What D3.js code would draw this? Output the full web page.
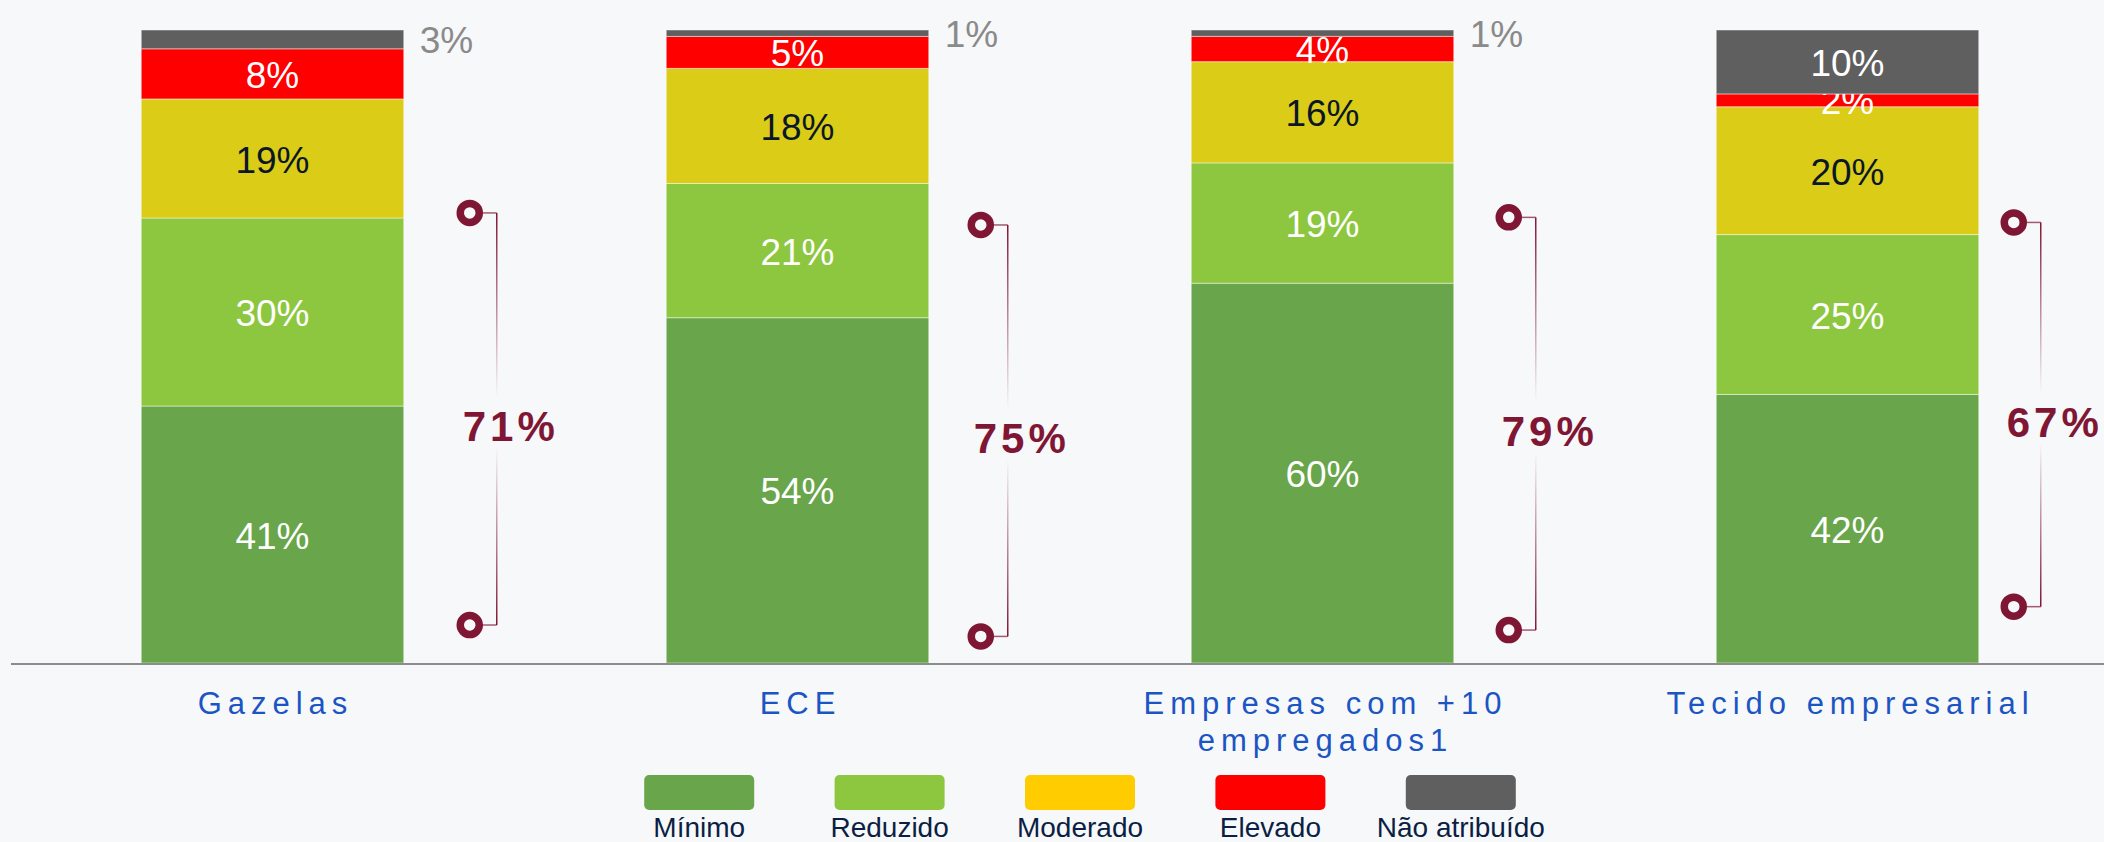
<!DOCTYPE html>
<html>
<head>
<meta charset="utf-8">
<script src="https://cdn.jsdelivr.net/npm/d3@7"></script>
<style>
	body { margin: 0; background: #f7f8fa; }
	svg { display: block; font-family: "Liberation Sans", Arial, sans-serif; }
</style>
</head>
<body>
<div id="chart"></div>
<script>
// Data
const categories = ["Gazelas", "ECE", "Empresas com +10\nempregados1", "Tecido empresarial"];
const series = ["Mínimo", "Reduzido", "Moderado", "Elevado", "Não atribuído"];
const minimo = [41, 54, 60, 42];
const reduzido = [30, 21, 19, 25];
const moderado = [19, 18, 16, 20];
const elevado = [8, 5, 4, 2];
const naoAtribuido = [3, 1, 1, 10];

const bracketTop = [0.711, 0.692, 0.704, 0.696];
const bracketBottom = [0.060, 0.042, 0.052, 0.089];

(function() {
	const width = 2104, height = 842;
	const margin = {top: 30, right: -6, bottom: 179, left: 10};

	const barColors = ["#69a54a", "#8dc73f", "#dacc17", "#ff0000", "#5f5f5f"];
	const legendColors = ["#69a54a", "#8dc73f", "#ffcc00", "#ff0000", "#5f5f5f"];
	const labelColors = ["#ffffff", "#ffffff", "#0b1728", "#ffffff", "#ffffff"];
	const maroon = "#7f1734";
	const bracketGap = [66, 52, 55, 35];

	const cols = [minimo, reduzido, moderado, elevado, naoAtribuido];
	const data = categories.map((c, i) => {
		const row = {category: c};
		series.forEach((s, j) => row[s] = cols[j][i]);
		return row;
	});

	const stacked = d3.stack()
		.keys(series)
		.offset(d3.stackOffsetExpand)(data);

	const x = d3.scaleBand()
		.domain(categories)
		.range([margin.left, width - margin.right])
		.paddingInner(0.5)
		.paddingOuter(0.25);

	const y = d3.scaleLinear()
		.domain([0, 1])
		.range([height - margin.bottom, margin.top]);

	const svg = d3.select("#chart").append("svg")
		.attr("width", width)
		.attr("height", height);

	svg.append("rect")
		.attr("width", width)
		.attr("height", height)
		.attr("fill", "#f7f8fa");

	// Bars
	const layers = svg.append("g")
		.selectAll("g")
		.data(stacked)
		.join("g")
			.attr("fill", (d, i) => barColors[i]);

	layers.selectAll("rect")
		.data(d => d)
		.join("rect")
			.attr("x", d => x(d.data.category))
			.attr("y", d => y(d[1]))
			.attr("width", x.bandwidth())
			.attr("height", d => y(d[0]) - y(d[1]))
			.attr("stroke", "rgba(255,255,255,0.45)")
			.attr("stroke-width", 1);

	// Segment labels (small "não atribuído" shares go outside the bar)
	const isOutside = (li, d, key) => li === 4 && d.data[key] < 5;

	layers.each(function(layer, li) {
		d3.select(this).selectAll("text")
			.data(layer)
			.join("text")
				.attr("x", d => isOutside(li, d, layer.key)
					? x(d.data.category) + x.bandwidth() + 16
					: x(d.data.category) + x.bandwidth() / 2)
				.attr("y", d => (y(d[0]) + y(d[1])) / 2)
				.attr("dy", "0.38em")
				.attr("text-anchor", d => isOutside(li, d, layer.key) ? "start" : "middle")
				.attr("fill", d => isOutside(li, d, layer.key) ? "#8a8a8a" : labelColors[li])
				.style("font-size", "37px")
				.text(d => d.data[layer.key] + "%");
	});

	// Baseline
	svg.append("line")
		.attr("x1", 11)
		.attr("x2", width)
		.attr("y1", y(0) + 1)
		.attr("y2", y(0) + 1)
		.attr("stroke", "#8c8c8c")
		.attr("stroke-width", 2);

	// Category labels
	svg.append("g")
		.selectAll("text")
		.data(categories)
		.join("text")
			.attr("x", d => x(d) + x.bandwidth() / 2 + 3)
			.attr("y", y(0) + 51)
			.attr("text-anchor", "middle")
			.attr("fill", "#1b55c4")
			.style("font-size", "31px")
			.style("letter-spacing", "6px")
			.each(function(d) {
				d.split("\n").forEach((line, i) => {
					d3.select(this).append("tspan")
						.attr("x", x(d) + x.bandwidth() / 2 + 3)
						.attr("dy", i === 0 ? 0 : 37)
						.text(line);
				});
			});

	// Brackets (Mínimo + Reduzido)
	const defs = svg.append("defs");
	const gradUp = defs.append("linearGradient")
		.attr("id", "fadeDown")
		.attr("x1", 0).attr("y1", 0).attr("x2", 0).attr("y2", 1);
	gradUp.append("stop").attr("offset", "0%").attr("stop-color", maroon).attr("stop-opacity", 1);
	gradUp.append("stop").attr("offset", "100%").attr("stop-color", maroon).attr("stop-opacity", 0);
	const gradDown = defs.append("linearGradient")
		.attr("id", "fadeUp")
		.attr("x1", 0).attr("y1", 0).attr("x2", 0).attr("y2", 1);
	gradDown.append("stop").attr("offset", "0%").attr("stop-color", maroon).attr("stop-opacity", 0);
	gradDown.append("stop").attr("offset", "100%").attr("stop-color", maroon).attr("stop-opacity", 1);

	const brackets = svg.append("g")
		.selectAll("g")
		.data(categories)
		.join("g");

	brackets.each(function(c, i) {
		const g = d3.select(this);
		const cx = x(c) + x.bandwidth() + bracketGap[i];
		const lx = cx + 27;
		const yTop = y(bracketTop[i]);
		const yBot = y(bracketBottom[i]);
		const mid = (yTop + yBot) / 2;

		g.append("line")
			.attr("x1", cx).attr("x2", lx)
			.attr("y1", yTop).attr("y2", yTop)
			.attr("stroke", maroon).attr("stroke-opacity", 0.7).attr("stroke-width", 1.5);
		g.append("line")
			.attr("x1", cx).attr("x2", lx)
			.attr("y1", yBot).attr("y2", yBot)
			.attr("stroke", maroon).attr("stroke-opacity", 0.7).attr("stroke-width", 1.5);

		g.append("rect")
			.attr("x", lx - 0.75)
			.attr("y", yTop)
			.attr("width", 1.5)
			.attr("height", mid - 22 - yTop)
			.attr("fill", "url(#fadeDown)");
		g.append("rect")
			.attr("x", lx - 0.75)
			.attr("y", mid + 28)
			.attr("width", 1.5)
			.attr("height", yBot - mid - 28)
			.attr("fill", "url(#fadeUp)");

		[yTop, yBot].forEach(cy => {
			g.append("circle")
				.attr("cx", cx)
				.attr("cy", cy)
				.attr("r", 9.5)
				.attr("fill", "#f7f8fa")
				.attr("stroke", maroon)
				.attr("stroke-width", 7.5);
		});

		g.append("text")
			.attr("x", lx + 14)
			.attr("y", mid + 22)
			.attr("text-anchor", "middle")
			.attr("fill", maroon)
			.style("font-size", "42px")
			.style("font-weight", "bold")
			.style("letter-spacing", "4px")
			.text((minimo[i] + reduzido[i]) + "%");
	});

	// Legend
	const legend = d3.scaleBand()
		.domain(series)
		.range([604, 1556]);

	const items = svg.append("g")
		.selectAll("g")
		.data(series)
		.join("g")
			.attr("transform", d => `translate(${legend(d) + legend.bandwidth() / 2}, 0)`);

	items.append("rect")
		.attr("x", -55)
		.attr("y", 775)
		.attr("width", 110)
		.attr("height", 35)
		.attr("rx", 5)
		.attr("fill", (d, i) => legendColors[i]);

	items.append("text")
		.attr("y", 837)
		.attr("text-anchor", "middle")
		.attr("fill", "#0b1f44")
		.style("font-size", "28px")
		.text(d => d);
})();
</script>
</body>
</html>
